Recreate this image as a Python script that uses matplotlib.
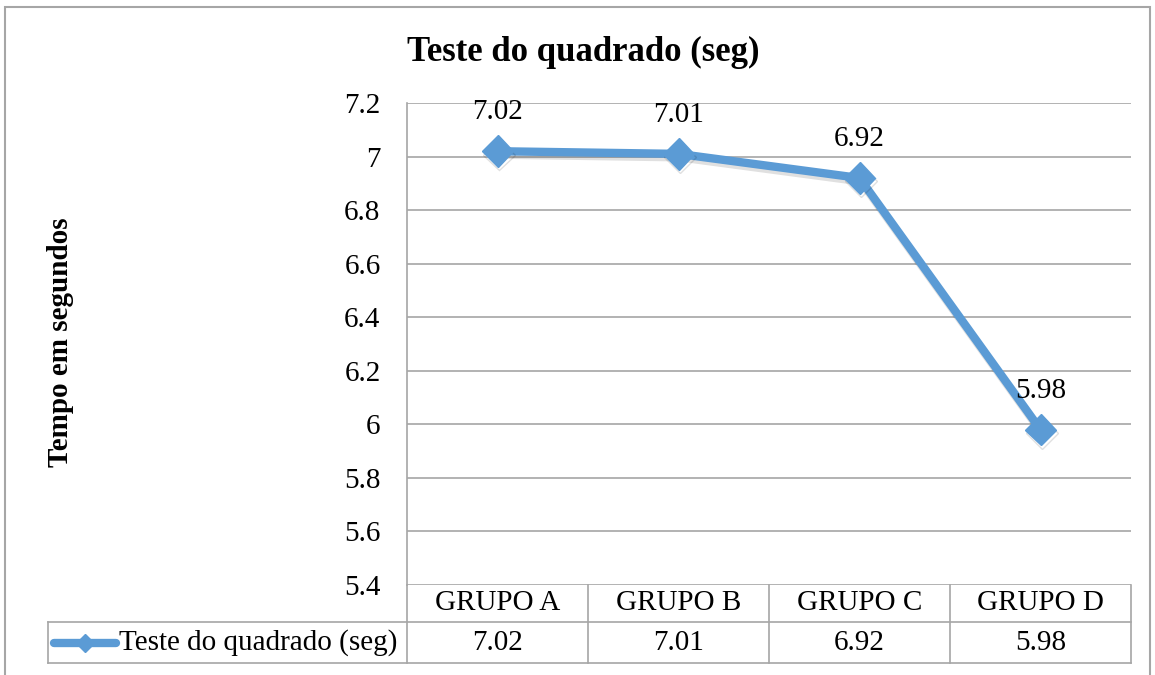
import matplotlib.pyplot as plt
import matplotlib.patheffects as pe
from matplotlib.lines import Line2D
from matplotlib.patches import Rectangle

categories = ['GRUPO A', 'GRUPO B', 'GRUPO C', 'GRUPO D']
values = [7.02, 7.01, 6.92, 5.98]
series_name = 'Teste do quadrado (seg)'
yticks = [5.4, 5.6, 5.8, 6.0, 6.2, 6.4, 6.6, 6.8, 7.0, 7.2]
ytick_labels = ['5.4', '5.6', '5.8', '6', '6.2', '6.4', '6.6', '6.8', '7', '7.2']

plt.rcParams['font.family'] = ['Liberation Serif', 'DejaVu Serif']
blue = '#5B9BD5'
grid = '#A6A6A6'
fs = 21

fig = plt.figure(figsize=(11.55, 6.75), dpi=100, facecolor='w')
ax = fig.add_axes([407 / 1155, 90 / 675, 724 / 1155, 482 / 675])

x = list(range(len(categories)))
ax.plot(x, values, color=blue, lw=6, marker='D', ms=16, mec=blue, mfc=blue,
        solid_joinstyle='miter', zorder=3,
        path_effects=[pe.SimpleLineShadow(offset=(1, -2.5), alpha=0.12, shadow_color='k'),
                      pe.Normal()])
for xi, v in zip(x, values):
    ax.annotate(f'{v:.2f}', (xi, v), xytext=(0, 28), textcoords='offset points',
                ha='center', va='center', fontsize=fs, zorder=4)

ax.set_xlim(-0.5, len(categories) - 0.5)
ax.set_ylim(5.4, 7.2)
ax.set_yticks(yticks)
ax.set_yticklabels(ytick_labels, fontsize=fs)
ax.tick_params(axis='y', length=0, pad=19)
ax.set_xticks([])
ax.grid(axis='y', color=grid, lw=1.2)
ax.set_axisbelow(True)
for s in ['top', 'right', 'bottom']:
    ax.spines[s].set_visible(False)
ax.spines['left'].set_color(grid)
ax.spines['left'].set_linewidth(1.2)

# data table under the plot
tr = ax.get_xaxis_transform()
h1 = -37 / 482
h2 = -78 / 482
xl = -0.5 - (407 - 48) / 724 * 4
tkw = dict(transform=tr, color=grid, lw=1.2, clip_on=False)
for b in [-0.5, 0.5, 1.5, 2.5, 3.5]:
    ax.add_line(Line2D([b, b], [0, h2], **tkw))
ax.add_line(Line2D([xl, 3.5], [h1, h1], **tkw))
ax.add_line(Line2D([xl, 3.5], [h2, h2], **tkw))
ax.add_line(Line2D([xl, xl], [h1, h2], **tkw))
for xi, c, v in zip(x, categories, values):
    ax.text(xi, h1 / 2, c, transform=tr, ha='center', va='center', fontsize=fs)
    ax.text(xi, (h1 + h2) / 2, f'{v:.2f}', transform=tr, ha='center', va='center', fontsize=fs)

# legend key in table
ym = (h1 + h2) / 2
kx0 = xl + 6 / 724 * 4
kx1 = xl + 68 / 724 * 4
ax.add_line(Line2D([kx0, kx1], [ym, ym], transform=tr, color=blue, lw=6,
                   solid_capstyle='round', clip_on=False))
ax.add_line(Line2D([(kx0 + kx1) / 2], [ym], transform=tr, color=blue, marker='D',
                   ms=9, clip_on=False))
ax.text(xl + 71 / 724 * 4, ym, series_name, transform=tr, ha='left', va='center', fontsize=fs)

fig.text(583 / 1155, 1 - 52 / 675, series_name, ha='center', va='center',
         fontsize=25, fontweight='bold')
fig.text(60 / 1155, 1 - 342 / 675, 'Tempo em segundos', ha='center', va='center',
         rotation=90, fontsize=21, fontweight='bold')

fig.patches.append(Rectangle((5 / 1155, -0.05), 1145 / 1155, 1 - 7 / 675 + 0.05,
                             transform=fig.transFigure, fill=False, ec=grid, lw=1.5))

plt.savefig('out.png', dpi=100, facecolor='w')
